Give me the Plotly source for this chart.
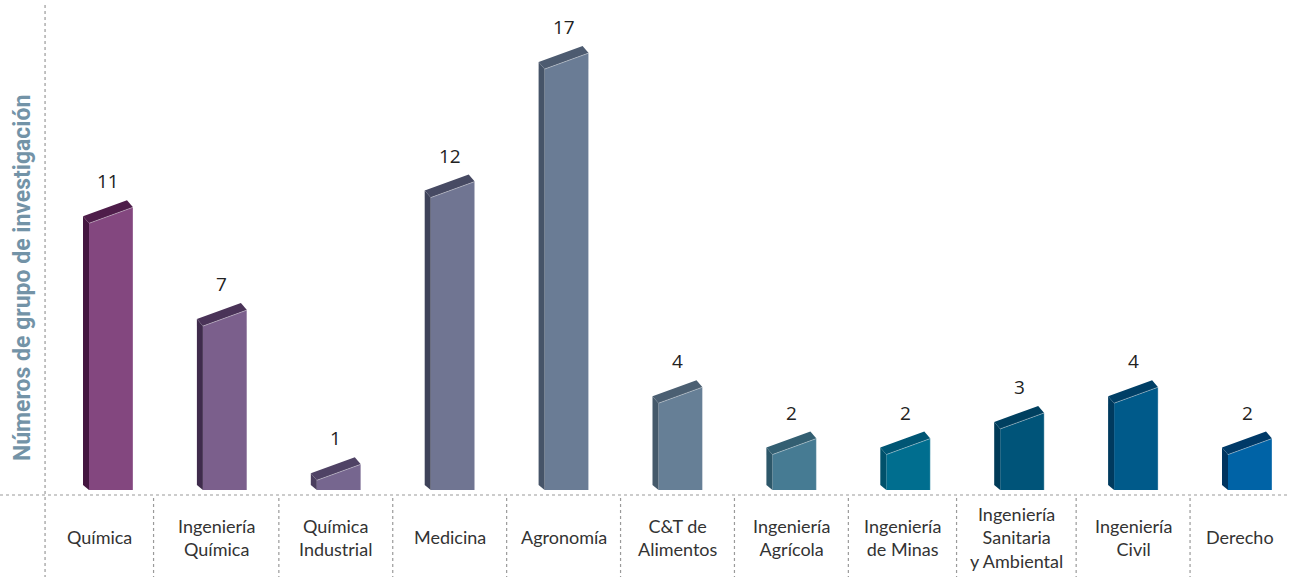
import plotly.graph_objects as go

# Research groups per academic programme
categories = [
    "Química", "Ingeniería<br>Química", "Química<br>Industrial", "Medicina",
    "Agronomía", "C&T de<br>Alimentos", "Ingeniería<br>Agrícola",
    "Ingeniería<br>de Minas", "Ingeniería<br>Sanitaria<br>y Ambiental",
    "Ingeniería<br>Civil", "Derecho",
]
values = [11, 7, 1, 12, 17, 4, 2, 2, 3, 4, 2]

front_colors = ["#83477f", "#7b5f8c", "#76668f", "#707592", "#6a7c95", "#667f96",
                "#467b93", "#006e8f", "#005479", "#005a8a", "#0063a6"]
side_colors = ["#441640", "#3f2b4c", "#4a3d5e", "#3e4259", "#465468", "#45596a",
               "#2d5769", "#00516b", "#003a57", "#003a5e", "#00345f"]
top_colors = ["#4e1d4a", "#4a3358", "#4f4265", "#474a63", "#4d5b70", "#4b5f72",
              "#335f72", "#005674", "#004060", "#003f66", "#003a68"]

# Figure geometry (pixels)
W, H = 1289, 577
PLOT_BOTTOM = 495            # bottom edge of the plotting area
BASE_GAP = 5                 # bars start this far above the plot bottom
X_PX = 113.9                 # pixels per category step
Y_PX = 25.7                  # pixels per unit value
FIRST_CX = 108               # pixel centre of the first bar

# 3-D bar shape (pixels)
FRONT_W = 44
DEPTH_X = 6
DEPTH_Y = 7
SLANT = 16

ux = lambda px: px / X_PX
uy = lambda px: px / Y_PX

# label table column edges (in category units)
AXIS_X = -0.5 - ux(6)
col_edges = [AXIS_X, 0.4, 1.5, 2.5, 3.5, 4.5, 5.5, 6.5, 7.45, 8.5, 9.5, ux(W - FIRST_CX)]

fig = go.Figure()

for i, (v, fc, sc, tc) in enumerate(zip(values, front_colors, side_colors, top_colors)):
    xr = i + ux(FRONT_W - 19)          # front right edge
    xl = i - ux(19)                    # front left edge
    xb = xl - ux(DEPTH_X)              # back left edge
    dxr = xr - ux(DEPTH_X)
    vl = v - uy(SLANT)                 # front left top
    dy = uy(DEPTH_Y)

    # front face
    fig.add_trace(go.Scatter(
        x=[xl, xr, xr, xl, xl], y=[0, 0, v, vl, 0],
        fill="toself", fillcolor=fc, mode="lines",
        line=dict(width=0, color=fc), hoverinfo="skip", showlegend=False))
    # left side face
    fig.add_trace(go.Scatter(
        x=[xl, xl, xb, xb, xl], y=[0, vl, vl + dy, uy(BASE_GAP), 0],
        fill="toself", fillcolor=sc, mode="lines",
        line=dict(width=0, color=sc), hoverinfo="skip", showlegend=False))
    # top face
    fig.add_trace(go.Scatter(
        x=[xl, xr, dxr, xb, xl], y=[vl, v, v + dy, vl + dy, vl],
        fill="toself", fillcolor=tc, mode="lines",
        line=dict(width=0, color=tc), hoverinfo="skip", showlegend=False))
    # light edge highlight
    fig.add_trace(go.Scatter(
        x=[xl, xr, xr], y=[vl, v, 0], mode="lines",
        line=dict(width=1, color="rgba(255,255,255,0.35)"),
        hoverinfo="skip", showlegend=False))

    # value label
    fig.add_annotation(x=i, y=v, text=str(v), showarrow=False,
                       yshift=26, yanchor="middle",
                       font=dict(family="Open Sans, sans-serif", size=19, color="#222222"))

    # category label, centred in its table column
    fig.add_annotation(x=(col_edges[i] + col_edges[i + 1]) / 2, xref="x",
                       y=(PLOT_BOTTOM - 537) / PLOT_BOTTOM, yref="paper",
                       text=categories[i], showarrow=False, yanchor="middle",
                       font=dict(family="Lato, sans-serif", size=18, color="#333333"))

dot = dict(color="#9a9a9a", width=1.2, dash="dot")
plot_h = PLOT_BOTTOM
bottom_paper = -(H - PLOT_BOTTOM) / plot_h

# baseline and left axis
fig.add_shape(type="line", xref="paper", yref="paper", x0=0, x1=1, y0=0, y1=0, line=dot)
fig.add_shape(type="line", xref="x", yref="paper", x0=AXIS_X, x1=AXIS_X,
              y0=1 - 5 / plot_h, y1=bottom_paper, line=dot)
# column separators under the axis
for xs in col_edges[1:-1]:
    fig.add_shape(type="line", xref="x", yref="paper", x0=xs, x1=xs,
                  y0=-3 / plot_h, y1=bottom_paper, line=dot)

# axis title
fig.add_annotation(x=22 / W, xref="paper", y=(PLOT_BOTTOM - 278) / plot_h, yref="paper",
                   text="<b>Números de grupo de investigación</b>", textangle=-90,
                   showarrow=False, xanchor="center", yanchor="middle",
                   font=dict(family="Liberation Sans Narrow, Roboto, sans-serif",
                             size=23, color="#7393a7"))

fig.update_layout(
    width=W, height=H, autosize=False,
    margin=dict(l=0, r=0, t=0, b=H - PLOT_BOTTOM),
    paper_bgcolor="white", plot_bgcolor="white",
    xaxis=dict(range=[-ux(FIRST_CX), ux(W - FIRST_CX)], visible=False, fixedrange=True),
    yaxis=dict(range=[-uy(BASE_GAP), uy(PLOT_BOTTOM - BASE_GAP)], visible=False, fixedrange=True),
)

fig.write_html("out.html")
